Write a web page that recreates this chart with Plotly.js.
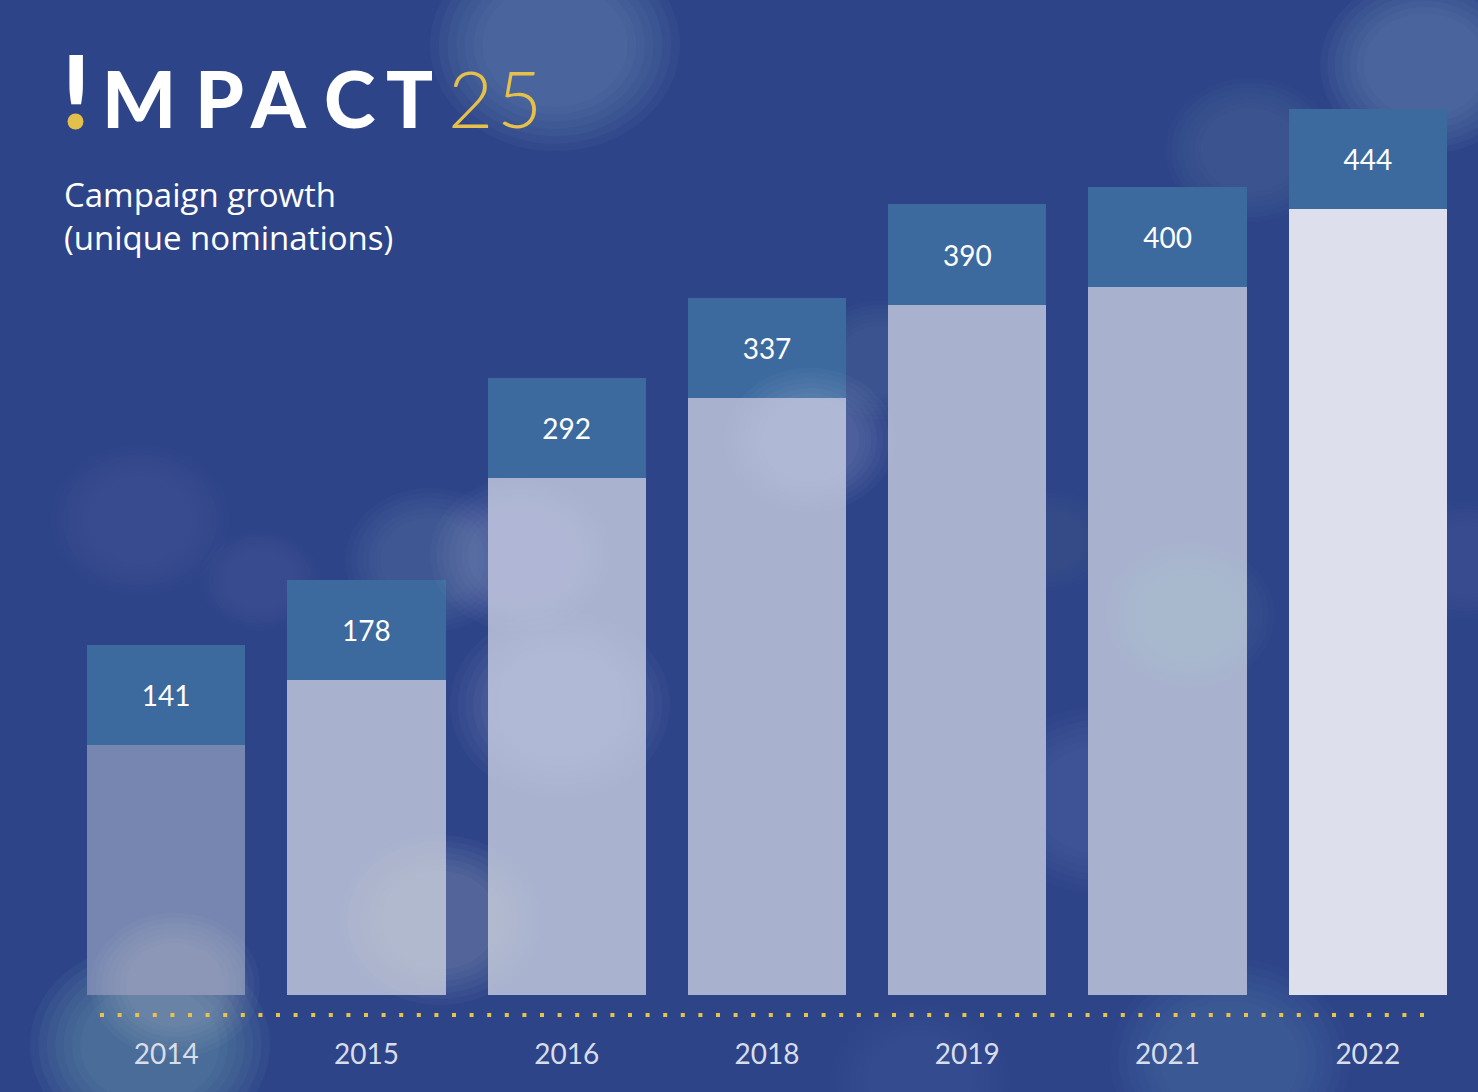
<!DOCTYPE html>
<html>
<head>
<meta charset="utf-8">
<script src="https://cdn.plot.ly/plotly-3.0.1.min.js"></script>
<style>html,body{margin:0;padding:0;background:#2d4488;}#chart{width:1478px;height:1092px;}</style>
</head>
<body>
<div id="chart"></div>
<script>
// ---- data ----
const years = ["2014", "2015", "2016", "2018", "2019", "2021", "2022"];
const nominations = [141, 178, 292, 337, 390, 400, 444];

// ---- style ----
const barColors = ["#7786b0", "#a8b2ce", "#a9b3cf", "#a8b2ce", "#a8b2ce", "#a8b2ce", "#dde0ec"];
const capColor = "#3c6a9e";
const CAP = 56.5; // height of the label cap, in axis units (≈100px)

const L = 66, R = 10, T = 0, B = 97, FW = 1478, FH = 1092;
const PW = FW - L - R, PH = FH - T - B;
const px = p => (p - L) / PW;
const py = p => (FH - B - p) / PH;

// soft bokeh background decoration: [cx, cy, r, rgb, alpha, layer]
const bokeh = [
  [555, 45, 125, "130,165,200", 0.40, "below"],
  [1425, 65, 105, "130,165,200", 0.40, "below"],
  [1250, 150, 85, "130,165,200", 0.18, "below"],
  [810, 440, 85, "215,225,240", 0.22, "above"],
  [520, 555, 90, "215,225,240", 0.20, "above"],
  [560, 705, 110, "215,225,240", 0.22, "above"],
  [430, 560, 85, "130,165,200", 0.25, "below"],
  [150, 1045, 120, "120,170,175", 0.55, "below"],
  [175, 985, 85, "215,230,235", 0.25, "above"],
  [440, 920, 100, "215,230,235", 0.25, "above"],
  [1100, 800, 110, "215,225,240", 0.14, "above"],
  [1190, 615, 85, "215,225,240", 0.12, "above"],
  [140, 520, 90, "130,165,200", 0.15, "below"],
  [260, 580, 60, "130,165,200", 0.15, "below"],
  [1230, 1060, 120, "120,165,185", 0.25, "below"],
  [920, 1080, 90, "120,165,185", 0.15, "below"],
  [1465, 560, 70, "130,165,200", 0.15, "below"],
  [1050, 540, 60, "130,165,200", 0.12, "below"],
  [880, 360, 70, "130,165,200", 0.18, "below"]
];
const shapes = [];
const RINGS = 7;
bokeh.forEach(([cx, cy, r, rgb, a, layer]) => {
  for (let i = 0; i < RINGS; i++) {
    const f = 1 - i * 0.07;
    shapes.push({
      type: "circle", xref: "paper", yref: "paper", layer: layer,
      x0: px(cx - r * f), x1: px(cx + r * f),
      y0: py(cy + r * f * 0.85), y1: py(cy - r * f * 0.85),
      fillcolor: "rgba(" + rgb + "," + (a / RINGS).toFixed(3) + ")", line: {width: 0}
    });
  }
});
// dotted gold baseline
shapes.push({
  type: "line", xref: "paper", yref: "paper", layer: "above",
  x0: px(100), x1: px(1430), y0: py(1015), y1: py(1015),
  line: {color: "#e8c24a", width: 4, dash: "4px,13.6px"}
});
// gold dot of the logo's "!"
shapes.push({
  type: "circle", xref: "paper", yref: "paper", layer: "above",
  x0: px(67.5), x1: px(83.5), y0: py(129.5), y1: py(113.5),
  fillcolor: "#e3bf4c", line: {width: 0}
});

const titleFont = {family: "Lato, 'Open Sans', sans-serif", size: 78, color: "#ffffff", weight: 900};
const letters = [
  ["M", 139], ["P", 219], ["A", 278], ["C", 349], ["T", 409]
];
const annotations = letters.map(([ch, cx]) => ({
  text: ch, xref: "paper", yref: "paper", x: px(cx), y: py(98),
  xanchor: "center", yanchor: "middle", showarrow: false, font: titleFont
}));
// the "!" stem (its own dot clipped away; the gold dot is drawn as a shape)
annotations.push({
  text: "!", xref: "paper", yref: "paper", x: px(76), y: py(26),
  xanchor: "center", yanchor: "top", valign: "top", height: 80, width: 40,
  showarrow: false,
  font: {family: "Lato, sans-serif", size: 104, color: "#ffffff", weight: 900}
});
[["2", 470], ["5", 519]].forEach(([ch, cx]) => annotations.push({
  text: ch, xref: "paper", yref: "paper", x: px(cx), y: py(98),
  xanchor: "center", yanchor: "middle", showarrow: false,
  font: {family: "Lato, sans-serif", size: 78, color: "#e5c04a", weight: 300}
}));
annotations.push({
  text: "Campaign growth<br>(unique nominations)", xref: "paper", yref: "paper",
  x: px(62), y: py(170), xanchor: "left", yanchor: "top", align: "left", showarrow: false,
  font: {family: "'Open Sans', Lato, sans-serif", size: 33, color: "#ffffff"}
});

const traces = [
  {
    type: "bar", x: years, y: nominations,
    marker: {color: barColors, line: {width: 0}},
    hoverinfo: "skip", showlegend: false
  },
  {
    type: "bar", x: years, y: nominations.map(() => CAP),
    text: nominations.map(String), textposition: "inside",
    insidetextanchor: "middle", textangle: 0,
    textfont: {family: "Lato, 'Open Sans', sans-serif", size: 28, color: "#ffffff"},
    marker: {color: capColor, line: {width: 0}},
    hoverinfo: "skip", showlegend: false
  }
];

const layout = {
  width: FW, height: FH,
  margin: {l: L, r: R, t: T, b: B},
  paper_bgcolor: "#2d4488", plot_bgcolor: "rgba(0,0,0,0)",
  barmode: "stack", bargap: 0.21,
  xaxis: {
    type: "category", showgrid: false, zeroline: false, showline: false,
    ticks: "", ticklabelstandoff: 40,
    tickfont: {family: "Lato, 'Open Sans', sans-serif", size: 28, color: "#d8ddeb"}
  },
  yaxis: {range: [0, 562], visible: false, showgrid: false, zeroline: false},
  shapes: shapes,
  annotations: annotations
};

Plotly.newPlot("chart", traces, layout, {displayModeBar: false, staticPlot: true});
</script>
</body>
</html>
